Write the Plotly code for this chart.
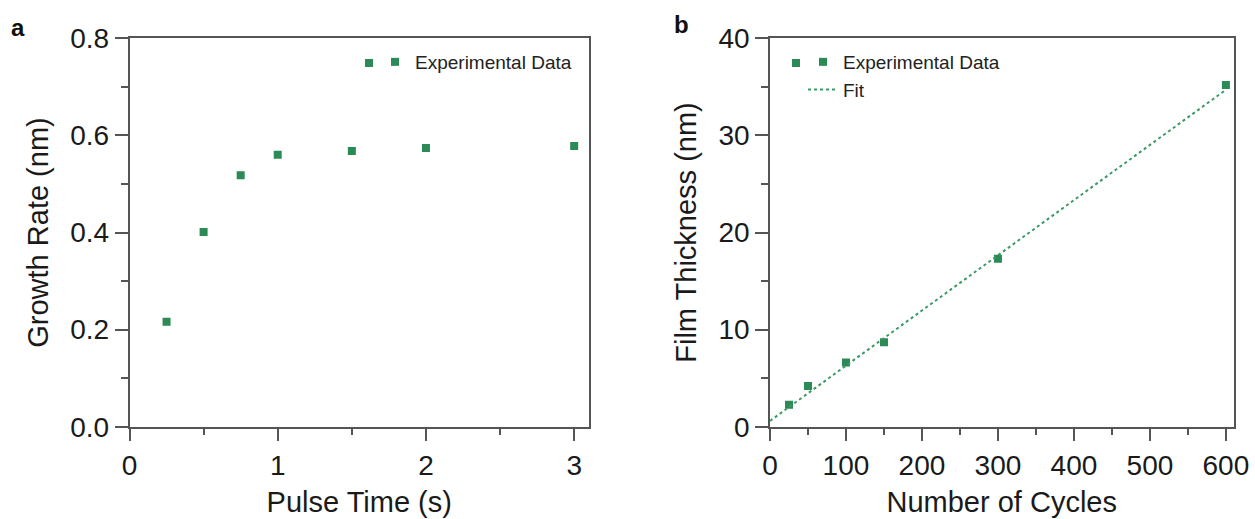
import plotly.graph_objects as go

# ---- data: panel a ----
pulse_time = [0.25, 0.5, 0.75, 1.0, 1.5, 2.0, 3.0]
growth_rate = [0.216, 0.401, 0.518, 0.560, 0.568, 0.574, 0.578]

# ---- data: panel b ----
cycles = [25, 50, 100, 150, 300, 600]
thickness = [2.26, 4.2, 6.6, 8.7, 17.3, 35.2]
fit_cycles = [0, 600]
fit_thickness = [0.6, 34.7]

W, H = 1255, 519
GREEN = "#2b8a56"
AX = "#555555"
FONT = "Liberation Sans, Arial, sans-serif"
TXT = "#1a1a1a"

fig = go.Figure()
fig.add_trace(go.Scatter(x=pulse_time, y=growth_rate, mode="markers",
                         name="Experimental Data", xaxis="x", yaxis="y",
                         marker=dict(symbol="square", size=8, color=GREEN),
                         legend="legend", showlegend=True))
fig.add_trace(go.Scatter(x=cycles, y=thickness, mode="markers",
                         name="Experimental Data", xaxis="x2", yaxis="y2",
                         marker=dict(symbol="square", size=8, color=GREEN),
                         legend="legend2", showlegend=True))
fig.add_trace(go.Scatter(x=fit_cycles, y=fit_thickness, mode="lines",
                         name="Fit", xaxis="x2", yaxis="y2",
                         line=dict(color="#3a9a64", width=2, dash="dot"),
                         legend="legend2", showlegend=True))

def xax(domain, rng, dt, mdt, anchor, title):
    return dict(domain=domain, range=rng, anchor=anchor, dtick=dt, tick0=0,
                showline=True, mirror=True, linecolor=AX, linewidth=1.5,
                ticks="outside", ticklen=13, tickwidth=1.5, tickcolor=AX,
                minor=dict(ticks="outside", ticklen=7, tickwidth=1.5, tickcolor=AX, dtick=mdt),
                showgrid=False, zeroline=False, automargin=False,
                tickfont=dict(family=FONT, size=28, color=TXT),
                title=dict(text=title, font=dict(family=FONT, size=29, color=TXT), standoff=12))

def yax(domain, rng, dt, mdt, anchor, title, fmt):
    d = xax(domain, rng, dt, mdt, anchor, title)
    d["tickformat"] = fmt
    d["title"]["standoff"] = 13
    return d

def legend_square(cx, cy, s=8):
    return dict(type="rect", xref="paper", yref="paper",
                x0=(cx - s / 2) / W, x1=(cx + s / 2) / W,
                y0=1 - (cy + s / 2) / H, y1=1 - (cy - s / 2) / H,
                fillcolor=GREEN, line=dict(width=0))

ydom = [1 - 426.7 / H, 1 - 38.3 / H]
fig.update_layout(
    width=W, height=H, margin=dict(l=0, r=0, t=0, b=0, autoexpand=False),
    paper_bgcolor="white", plot_bgcolor="white", showlegend=True,
    xaxis=xax([129.5 / W, 589 / W], [0, 3.1], 1, 0.5, "y", "Pulse Time (s)"),
    yaxis=yax(ydom, [0, 0.8], 0.2, 0.1, "x", "Growth Rate (nm)", ".1f"),
    xaxis2=xax([770 / W, 1233.5 / W], [0, 610], 100, 50, "y2", "Number of Cycles"),
    yaxis2=yax(ydom, [0, 40], 10, 5, "x2", "Film Thickness (nm)", "d"),
    legend=dict(x=375 / W, y=1 - 43 / H, xanchor="left", yanchor="top",
                font=dict(family=FONT, size=19, color="#222"), bgcolor="rgba(0,0,0,0)",
                itemwidth=30),
    legend2=dict(x=803 / W, y=1 - 43 / H, xanchor="left", yanchor="top",
                 font=dict(family=FONT, size=19, color="#222"), bgcolor="rgba(0,0,0,0)",
                 itemwidth=30),
    shapes=[legend_square(369, 63), legend_square(796, 63)],
    annotations=[
        dict(text="<b>a</b>", x=18 / W, y=1 - 27 / H, xref="paper", yref="paper",
             xanchor="center", yanchor="middle",
             showarrow=False, font=dict(family=FONT, size=24, color="#111")),
        dict(text="<b>b</b>", x=681 / W, y=1 - 25 / H, xref="paper", yref="paper",
             xanchor="center", yanchor="middle",
             showarrow=False, font=dict(family=FONT, size=24, color="#111")),
    ],
)
fig.write_html("out.html")
